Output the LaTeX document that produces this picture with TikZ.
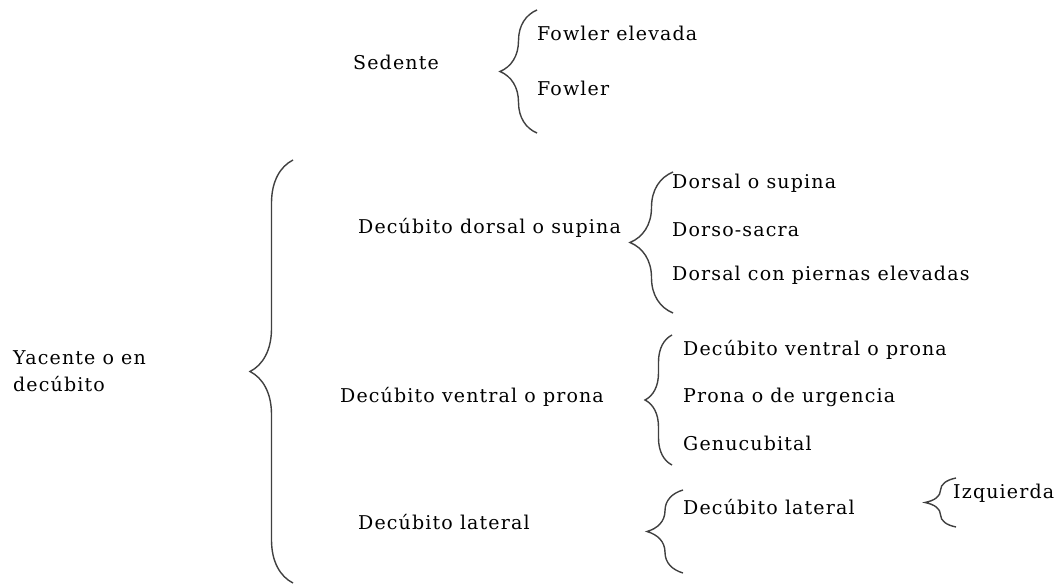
\documentclass[tikz,border=0pt]{standalone}
\usepackage{fontspec}
\setmainfont[LetterSpace=6]{DejaVu Serif}
\usetikzlibrary{decorations.pathreplacing}

\begin{document}
\begin{tikzpicture}[x=1pt, y=-1pt,
                lbl/.style={anchor=west, inner sep=0pt, font=\fontsize{19}{27}\selectfont},
                curly/.style={draw=black!75, line width=1.4pt, decorate, decoration={brace, amplitude=#1}}]
                \useasboundingbox (0, 0) rectangle (1058, 587);

                \node [lbl] (sedente) at (353, 62) {Sedente};
                \node [lbl] (fowlerelev) at (537, 33) {Fowler elevada};
                \node [lbl] (fowler) at (537, 88) {Fowler};

                \node [lbl, align=left] (yacente) at (13, 371) {Yacente o en\\decúbito};

                \node [lbl] (dorsal) at (358, 228) {Decúbito dorsal o supina};
                \node [lbl] (dorsalsup) at (672, 183) {Dorsal o supina};
                \node [lbl] (dorsosacra) at (672, 230) {Dorso-sacra};
                \node [lbl] (dorsalpiernas) at (672, 275) {Dorsal con piernas elevadas};

                \node [lbl] (ventral) at (340, 397) {Decúbito ventral o prona};
                \node [lbl] (ventralprona) at (683, 350) {Decúbito ventral o prona};
                \node [lbl] (urgencia) at (683, 397) {Prona o de urgencia};
                \node [lbl] (genucubital) at (683, 443) {Genucubital};

                \node [lbl] (lateral) at (358, 522) {Decúbito lateral};
                \node [lbl] (laterallat) at (683, 507) {Decúbito lateral};
                \node [lbl] (izquierda) at (953, 493) {Izquierda};

                \coordinate (sedtop) at (537, 10);
                \coordinate (sedbot) at (537, 133);
                \coordinate (yactop) at (293, 160);
                \coordinate (yacbot) at (293, 583);
                \coordinate (dortop) at (673, 172);
                \coordinate (dorbot) at (673, 313);
                \coordinate (ventop) at (672, 335);
                \coordinate (venbot) at (672, 465);
                \coordinate (lattop) at (683, 490);
                \coordinate (latbot) at (683, 573);
                \coordinate (izqtop) at (956, 478);
                \coordinate (izqbot) at (956, 527);

                \draw [curly=37pt] (sedbot) -- (sedtop);
                \draw [curly=43pt] (yacbot) -- (yactop);
                \draw [curly=43pt] (dorbot) -- (dortop);
                \draw [curly=27pt] (venbot) -- (ventop);
                \draw [curly=36pt] (latbot) -- (lattop);
                \draw [curly=31pt] (izqbot) -- (izqtop);
\end{tikzpicture}
\end{document}
